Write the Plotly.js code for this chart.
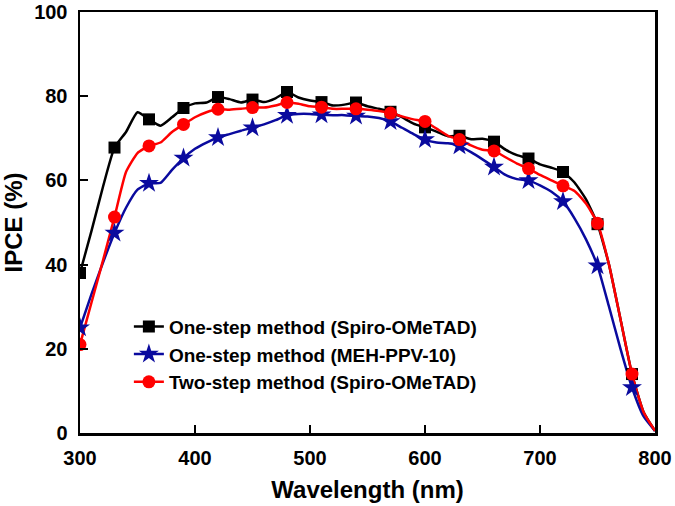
<!DOCTYPE html>
<html>
<head>
<meta charset="utf-8">
<script src="https://cdn.plot.ly/plotly-3.0.1.min.js"></script>
<style>html,body{margin:0;padding:0;background:#fff}#chart{width:675px;height:506px}</style>
</head>
<body>
<div id="chart"></div>
<script>
const wavelength = [300,310,320,330,340,350,360,370,380,390,400,410,420,430,440,450,460,470,480,490,500,510,520,530,540,550,560,570,580,590,600,610,620,630,640,650,660,670,680,690,700,710,720,730,740,750,760,770,780,790,800];
const oneStepSpiro = [38,48,58.5,67.8,71.5,76.2,74.5,73,75,77.2,78.3,78.5,79.8,79.3,78.5,79.2,78.6,79.5,81,79.7,79,78.6,77.8,78,78.5,77.6,77,76.3,75,73.5,72.6,71.6,70.5,70.6,69.8,69.9,69.2,67.3,66,65.2,63.8,63,62,59.5,55.5,49.6,40,27,14,5,0.5];
const oneStepMEH = [25,33,40.5,47.5,53.5,57.8,59.3,59.4,62.5,65.3,67.5,69,70.2,71,71.8,72.5,73.3,74.3,75.5,75.8,75.8,75.6,75.5,75.5,75.3,75.2,74.8,74,72.5,71,69.7,69,68.8,68.2,66.7,65,63.2,61.3,60.3,60,58.8,57.3,55,51,46,39.7,30,20,10.8,4,0.5];
const twoStepSpiro = [21,31,41,51.3,62,66.5,68.2,69,71.5,73.3,75,76.2,76.9,76.8,77,77.3,77.3,77.8,78.5,78.2,77.6,77.4,77,77,77,76.8,76.5,76,75.2,74.5,74,72.3,70.6,69.7,68.3,67.3,67,65.5,64,62.8,61.3,60,58.7,57.5,54.5,49.8,40,27,14,5,0.5];
const seriesNames = ["One-step method (Spiro-OMeTAD)","One-step method (MEH-PPV-10)","Two-step method (Spiro-OMeTAD)"];

const series = [
  {y: oneStepSpiro, color: "#000000", symbol: "square", size: 12},
  {y: oneStepMEH, color: "#0a0a9e", symbol: "star", size: 15},
  {y: twoStepSpiro, color: "#ff0000", symbol: "circle", size: 13}
];
const isMarker = x => x % 30 === 0 && x <= 780;
const traces = [];
series.forEach((s) => {
  traces.push({x: wavelength, y: s.y, mode: "lines", line: {color: s.color, width: 2.5, shape: "spline", smoothing: 0.5}, showlegend: false, hoverinfo: "skip"});
});
series.forEach((s) => {
  const mx = [], my = [];
  wavelength.forEach((w, k) => { if (isMarker(w)) { mx.push(w); my.push(s.y[k]); } });
  traces.push({x: mx, y: my, mode: "markers", marker: {color: s.color, symbol: s.symbol, size: s.size}, showlegend: false});
});
series.forEach((s, i) => {
  traces.push({x: [null], y: [null], mode: "lines+markers", name: seriesNames[i], line: {color: s.color, width: 2.5}, marker: {color: s.color, symbol: s.symbol, size: s.size}});
});

const fontFam = "Liberation Sans, Arial, sans-serif";
const layout = {
  width: 675, height: 506,
  margin: {l: 80, r: 20, t: 12, b: 73},
  paper_bgcolor: "#fff", plot_bgcolor: "#fff",
  font: {family: fontFam, color: "#000"},
  showlegend: true,
  legend: {x: 0.085, y: 0.298, xanchor: "left", yanchor: "top", bgcolor: "rgba(0,0,0,0)", font: {size: 19, family: fontFam, weight: "bold"}, tracegroupgap: 0},
  xaxis: {
    range: [300, 800], tickvals: [300,400,500,600,700,800],
    showline: true, linewidth: 2.5, linecolor: "#000", mirror: true,
    ticks: "inside", ticklen: 8, tickwidth: 2, tickcolor: "#000",
    ticklabelstandoff: 5,
    showgrid: false, zeroline: false,
    tickfont: {size: 20, family: fontFam, weight: "bold"},
    title: {text: "Wavelength (nm)", font: {size: 24, family: fontFam, weight: "bold"}, standoff: 14}
  },
  yaxis: {
    range: [0, 100], tickvals: [0,20,40,60,80,100],
    showline: true, linewidth: 2.5, linecolor: "#000", mirror: true,
    ticks: "inside", ticklen: 8, tickwidth: 2, tickcolor: "#000",
    ticklabelstandoff: 6,
    showgrid: false, zeroline: false,
    tickfont: {size: 20, family: fontFam, weight: "bold"},
    title: {text: "IPCE (%)", font: {size: 24, family: fontFam, weight: "bold"}, standoff: 12}
  }
};
Plotly.newPlot("chart", traces, layout, {displayModeBar: false, staticPlot: true});
</script>
</body>
</html>
